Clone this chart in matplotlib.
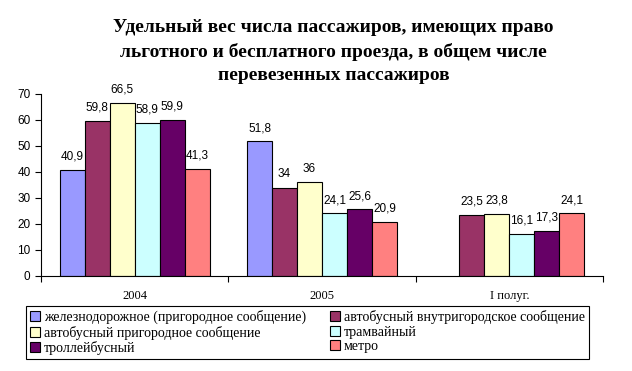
import matplotlib.pyplot as plt
import numpy as np

# данные диаграммы
categories = ["2004", "2005", "I полуг."]
series_names = [
    "железнодорожное (пригородное сообщение)",
    "автобусный внутригородское сообщение",
    "автобусный пригородное сообщение",
    "трамвайный",
    "троллейбусный",
    "метро",
]
rail = [40.9, 51.8, np.nan]
bus_city = [59.8, 34, 23.5]
bus_suburb = [66.5, 36, 23.8]
tram = [58.9, 24.1, 16.1]
trolley = [59.9, 25.6, 17.3]
metro = [41.3, 20.9, 24.1]
colors = ["#9999FF", "#993366", "#FFFFCC", "#CCFFFF", "#660066", "#FF8080"]
title_lines = [
    "Удельный вес числа пассажиров, имеющих право",
    "льготного и бесплатного проезда, в общем числе",
    "перевезенных пассажиров",
]

series = [rail, bus_city, bus_suburb, tram, trolley, metro]

fig = plt.figure(figsize=(6.32, 3.71), dpi=100)
ax = fig.add_axes([41 / 632, 1 - 276 / 371, 562 / 632, 182 / 371])

n = len(series)
bw = 0.8 / n
x = np.arange(len(categories))
bars = []
for i, (vals, c) in enumerate(zip(series, colors)):
    pos = x - 0.4 + bw * (i + 0.5)
    b = ax.bar(pos, vals, width=bw, color=c, edgecolor="black", linewidth=0.8)
    bars.append(b)
    for p, v in zip(pos, vals):
        if np.isnan(v):
            continue
        ax.text(p, v + 2.8, f"{v:g}".replace(".", ","), ha="center", va="bottom",
                fontsize=8.5, family="Liberation Sans")

ax.set_xlim(-0.5, len(categories) - 0.5)
ax.set_ylim(0, 70)
ax.set_yticks(range(0, 71, 10))
ax.set_xticks(x)
ax.set_xticklabels(categories, family="Liberation Serif", fontsize=9)
ax.set_xticks(np.arange(-0.5, len(categories), 1), minor=True)
ax.tick_params(axis="x", which="major", length=0, pad=10)
ax.tick_params(axis="x", which="minor", length=4, direction="out", width=0.8)
ax.tick_params(axis="y", length=4, width=0.8, labelsize=8.5)
for lab in ax.get_yticklabels():
    lab.set_family("Liberation Sans")
for s in ["top", "right"]:
    ax.spines[s].set_visible(False)
for s in ["left", "bottom"]:
    ax.spines[s].set_linewidth(0.8)

# заголовок по строкам
for k, line in enumerate(title_lines):
    fig.text(0.528, 1 - (28 + 24 * k) / 371, line, ha="center", va="center",
             fontsize=14, fontweight="bold", family="Liberation Serif")

order = [0, 2, 4, 1, 3, 5]
leg = fig.legend([bars[i] for i in order], [series_names[i] for i in order],
                 ncol=2, loc="upper left",
                 bbox_to_anchor=(26 / 632, 1 - 306 / 371),
                 prop={"family": "Liberation Serif", "size": 10},
                 handlelength=0.7, handleheight=0.7, handletextpad=0.3,
                 labelspacing=0.1, borderpad=0.3, borderaxespad=0,
                 columnspacing=1.7,
                 fancybox=False, edgecolor="black", framealpha=1)
leg.get_frame().set_linewidth(0.8)

fig.savefig("out.png", dpi=100)
